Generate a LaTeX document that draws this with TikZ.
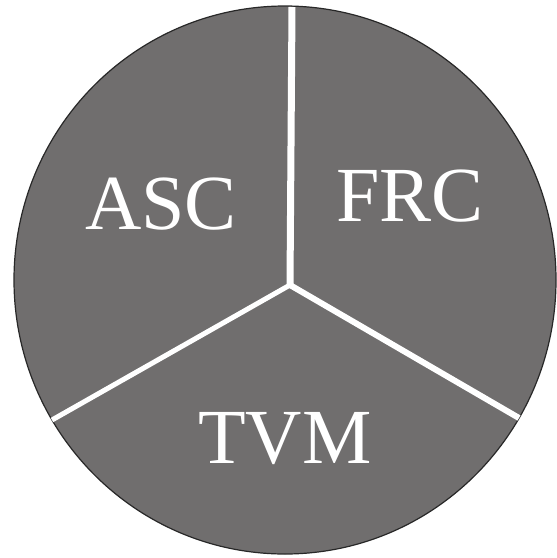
\documentclass[tikz,border=0pt]{standalone}
\usepackage{fontspec}
\setmainfont{Liberation Serif}
\definecolor{diskgray}{RGB}{112,110,110}
\definecolor{rimgray}{RGB}{40,40,40}
\begin{document}
\begin{tikzpicture}[x=1pt,y=-1pt,
  disk/.style={fill=diskgray,draw=rimgray,line width=1.2pt},
  spoke/.style={draw=white,line width=6pt,line cap=butt},
  label/.style={text=white,font=\fontsize{78}{78}\selectfont,inner sep=0pt,anchor=center}]
\useasboundingbox (0,0) rectangle (557,558);
\fill[white] (0,0) rectangle (557,558);
\draw[disk] (285,280) ellipse [x radius=271, y radius=274];
\coordinate (hub) at (290,285);
\coordinate (top) at (292,7);
\coordinate (right) at (519,418);
\coordinate (left) at (52,420);
\draw[spoke,line width=7pt] (hub) -- (top);
\draw[spoke] (hub) -- (right);
\draw[spoke,line width=5pt] (hub) -- (left);
\fill[white] (hub) circle (3pt);
\node[label] (asc) at (161,204) {ASC};
\node[label] (frc) at (410,196) {FRC};
\node[label] (tvm) at (285,439) {TVM};
\end{tikzpicture}
\end{document}
